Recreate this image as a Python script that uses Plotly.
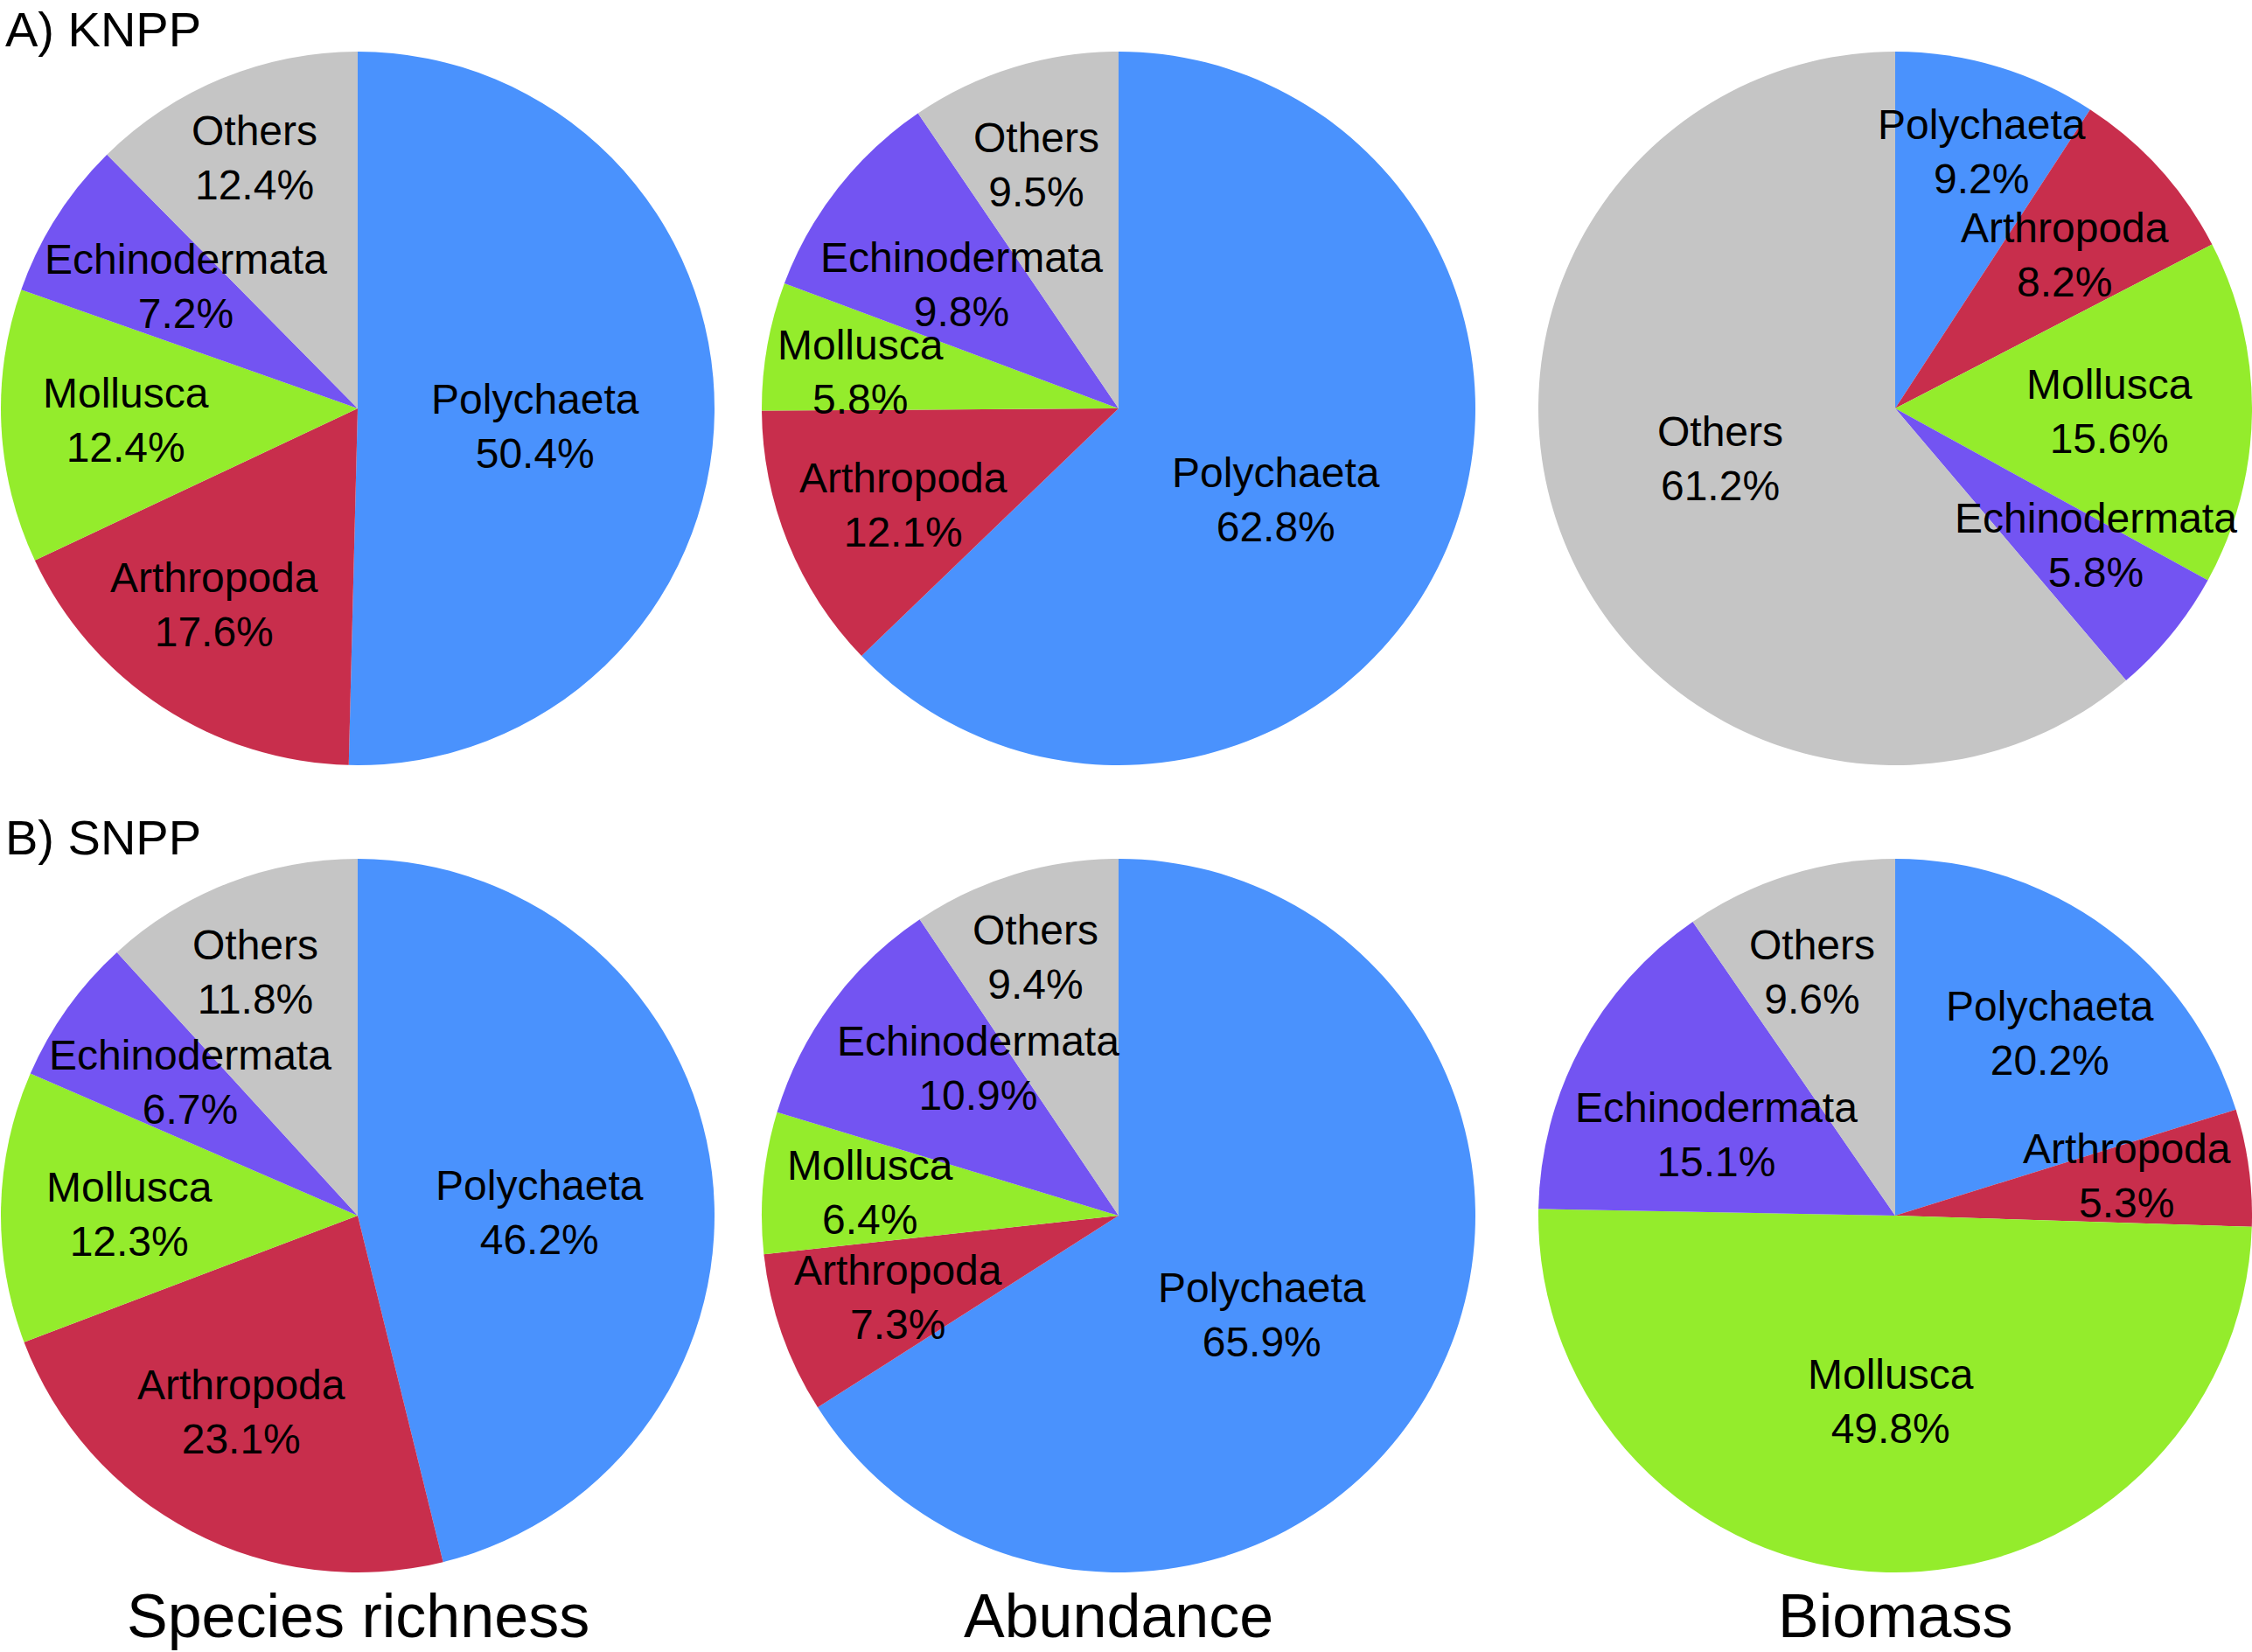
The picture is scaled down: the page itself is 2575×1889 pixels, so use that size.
import math
import plotly.graph_objects as go

# ---------------- data ----------------
groups = ["Polychaeta", "Arthropoda", "Mollusca", "Echinodermata", "Others"]

knpp_richness = [50.4, 17.6, 12.4, 7.2, 12.4]
knpp_abundance = [62.8, 12.1, 5.8, 9.8, 9.5]
knpp_biomass = [9.2, 8.2, 15.6, 5.8, 61.2]

snpp_richness = [46.2, 23.1, 12.3, 6.7, 11.8]
snpp_abundance = [65.9, 7.3, 6.4, 10.9, 9.4]
snpp_biomass = [20.2, 5.3, 49.8, 15.1, 9.6]

panel_titles = ["A) KNPP", "B) SNPP"]
measures = ["Species richness", "Abundance", "Biomass"]

# ---------------- styling / layout ----------------
colors = ["#4a92fd", "#c82e4c", "#94ec2c", "#7354f2", "#c5c5c5"]
FONT = "Arial, 'Liberation Sans', sans-serif"
W, H = 2575, 1889
R = 408
CX = [409, 1279, 2167]
CY = [467, 1390]

# label placement per slice: radial fraction of radius, and angular nudge (deg)
label_frac = [
    [[0.50, 0.68, 0.65, 0.59, 0.76],
     [0.51, 0.66, 0.73, 0.56, 0.72],
     [0.76, 0.64, 0.60, 0.68, 0.51]],
    [[0.51, 0.64, 0.64, 0.60, 0.74],
     [0.49, 0.66, 0.70, 0.57, 0.76],
     [0.67, 0.66, 0.52, 0.55, 0.72]],
]
label_dang = [
    [[5, 3, 0, 3, 0],
     [7, -2, -2, 0, -1.5],
     [2, 0, 0, -5, 4]],
    [[6, 3, -1, 3, -1.5],
     [6, -1, 0, 10, -1],
     [4, -2, 0, -4, -1.5]],
]

rows = [[knpp_richness, knpp_abundance, knpp_biomass],
        [snpp_richness, snpp_abundance, snpp_biomass]]

fig = go.Figure()
annotations = []


def px(x):
    return x / W


def py(y):
    return 1 - y / H


for ri, row in enumerate(rows):
    for ci, vals in enumerate(row):
        cx, cy = CX[ci], CY[ri]
        fig.add_trace(go.Pie(
            labels=groups,
            values=vals,
            sort=False,
            direction="clockwise",
            rotation=0,
            marker=dict(colors=colors, line=dict(width=0)),
            textinfo="none",
            hoverinfo="label+value",
            showlegend=False,
            domain=dict(x=[px(cx - R), min(1, px(cx + R))],
                        y=[py(cy + R), py(cy - R)]),
        ))
        total = sum(vals)
        cum = 0.0
        for k, (g, v) in enumerate(zip(groups, vals)):
            theta = 2 * math.pi * (cum + v / 2) / total
            theta += math.radians(label_dang[ri][ci][k])
            cum += v
            f = label_frac[ri][ci][k]
            lx = cx + f * R * math.sin(theta)
            ly = cy - f * R * math.cos(theta)
            annotations.append(dict(
                x=px(lx), y=py(ly), xref="paper", yref="paper",
                text=f"{g}<br>{v:.1f}%", showarrow=False,
                xanchor="center", yanchor="middle", align="center",
                font=dict(family=FONT, size=48, color="black")))

# panel titles
for ri, t in enumerate(panel_titles):
    annotations.append(dict(
        x=px(4), y=py([0, 924][ri]), xref="paper", yref="paper",
        text=t, showarrow=False, xanchor="left", yanchor="top",
        font=dict(family=FONT, size=56, color="black")))

# measure labels
for ci, m in enumerate(measures):
    annotations.append(dict(
        x=px(CX[ci]), y=py(1848), xref="paper", yref="paper",
        text=m, showarrow=False, xanchor="center", yanchor="middle",
        font=dict(family=FONT, size=70, color="black")))

fig.update_layout(
    width=W, height=H,
    margin=dict(l=0, r=0, t=0, b=0),
    paper_bgcolor="white",
    plot_bgcolor="white",
    annotations=annotations,
)

fig.write_html("out.html")
